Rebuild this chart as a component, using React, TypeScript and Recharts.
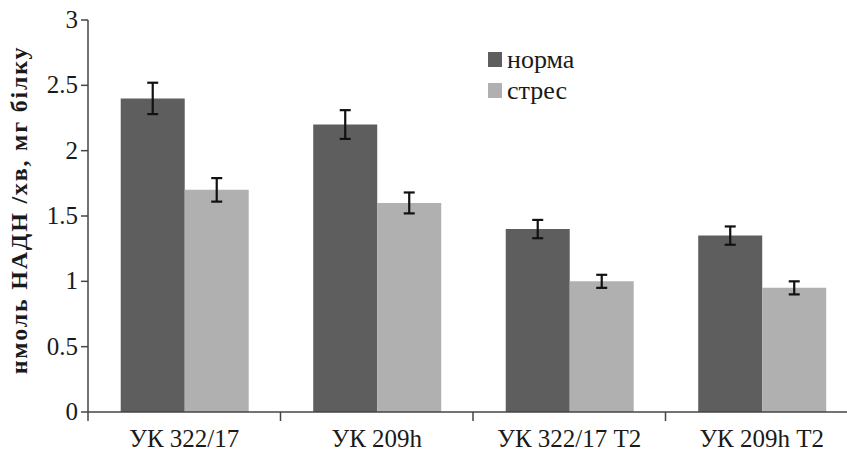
import React from "react";
import { BarChart, Bar, XAxis, YAxis, ErrorBar } from "recharts";

const categories = ["УК 322/17", "УК 209h", "УК 322/17 Т2", "УК 209h Т2"];
const normaValues = [2.4, 2.2, 1.4, 1.35];
const normaErrors = [0.12, 0.11, 0.07, 0.07];
const stressValues = [1.7, 1.6, 1.0, 0.95];
const stressErrors = [0.09, 0.08, 0.05, 0.05];
const yTicks = [0, 0.5, 1, 1.5, 2, 2.5, 3];
const yTickLabels = ["0", "0.5", "1", "1.5", "2", "2.5", "3"];
const seriesNames = ["норма", "стрес"];
const yLabel = "нмоль НАДН /хв, мг білку";

const data = categories.map((c, i) => ({
  name: c,
  norma: normaValues[i],
  normaErr: normaErrors[i],
  stress: stressValues[i],
  stressErr: stressErrors[i],
}));

const CHART_W = 880;
const CHART_H = 454;
const MARGIN = { top: 20, right: 22, left: 0, bottom: 0 };
const Y_W = 88;
const X_H = 42;
const PLOT_W = CHART_W - MARGIN.left - MARGIN.right - Y_W;
const STEP = PLOT_W / categories.length;
const FONT = "Liberation Serif, Times New Roman, DejaVu Serif, serif";
const DARK = "#5e5e5e";
const LIGHT = "#b0b0b0";

const XTick = (props: any) => {
  const { x, y, payload } = props;
  return (
    <g>
      <line x1={x - STEP / 2} x2={x - STEP / 2} y1={y} y2={y + 9} stroke="#444" strokeWidth={1.5} />
      <text x={x} y={y + 35} textAnchor="middle" style={{ fontFamily: FONT }} fontSize={25} fill="#1a1a1a">
        {payload.value}
      </text>
    </g>
  );
};

const YTick = (props: any) => {
  const { x, y, payload } = props;
  const idx = yTicks.indexOf(payload.value);
  return (
    <text x={x} y={y} dy={8} textAnchor="end" style={{ fontFamily: FONT }} fontSize={25} fill="#1a1a1a">
      {yTickLabels[idx]}
    </text>
  );
};

const LegendBox = () => {
  const colors = [DARK, LIGHT];
  return (
    <div style={{ position: "absolute", left: 488, top: 44, fontFamily: FONT }}>
      {seriesNames.map((n, i) => (
        <div key={n} style={{ display: "flex", alignItems: "center", height: 31 }}>
          <div style={{ width: 14, height: 15, background: colors[i], marginRight: 5 }} />
          <span style={{ fontSize: 26, color: "#1a1a1a", lineHeight: "26px" }}>{n}</span>
        </div>
      ))}
    </div>
  );
};

const YLabel = () => (
  <text
    x={27}
    y={210}
    transform="rotate(-90 27 210)"
    textAnchor="middle"
    style={{ fontFamily: FONT }}
    fontWeight="bold"
    fontSize={24}
    letterSpacing={1.8}
    fill="#1a1a1a"
  >
    {yLabel}
  </text>
);

export default function App() {
  return (
    <div style={{ position: "absolute", left: 0, top: 0, width: 847, height: 454, overflow: "hidden", background: "#fff" }}>
      <BarChart
        width={CHART_W}
        height={CHART_H}
        data={data}
        margin={MARGIN}
        barCategoryGap="17%"
        barGap={0}
      >
        <XAxis
          dataKey="name"
          height={X_H}
          tickLine={false}
          tickSize={0}
          tickMargin={0}
          axisLine={{ stroke: "#444", strokeWidth: 1.5 }}
          tick={<XTick />}
          interval={0}
        />
        <YAxis
          width={Y_W}
          domain={[0, 3]}
          ticks={yTicks}
          tickSize={7}
          tickMargin={3}
          axisLine={{ stroke: "#444", strokeWidth: 1.5 }}
          tickLine={{ stroke: "#444", strokeWidth: 1.5 }}
          tick={<YTick />}
          interval={0}
          label={<YLabel />}
        />
        <Bar dataKey="norma" name={seriesNames[0]} fill={DARK} isAnimationActive={false}>
          <ErrorBar dataKey="normaErr" width={5.5} stroke="#111" strokeWidth={2.2} />
        </Bar>
        <Bar dataKey="stress" name={seriesNames[1]} fill={LIGHT} isAnimationActive={false}>
          <ErrorBar dataKey="stressErr" width={5.5} stroke="#111" strokeWidth={2.2} />
        </Bar>
      </BarChart>
      <LegendBox />
    </div>
  );
}
